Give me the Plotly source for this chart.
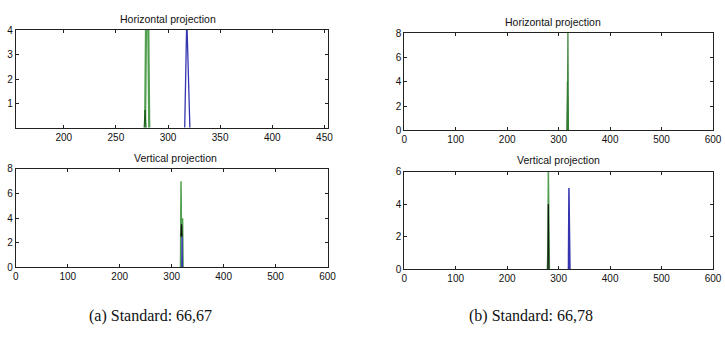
import plotly.graph_objects as go

# ---- data ----
# (a) Horizontal projection
a_h_green_x = [277, 278, 279, 280, 281, 282]
a_h_green_y = [0, 0, 4.5, 4.5, 4.5, 0]
a_h_dkgreen_x = [277, 278, 279]
a_h_dkgreen_y = [0, 0.75, 0]
a_h_blue_x = [316, 317, 318, 319, 320, 321]
a_h_blue_y = [0, 2, 4.5, 3, 1, 0]
# (a) Vertical projection
a_v_green_x = [317, 318, 319, 320, 321, 322]
a_v_green_y = [0, 7, 2.5, 2.5, 4, 0]
a_v_black_x = [318, 319, 320]
a_v_black_y = [2.5, 3.5, 2.5]
a_v_blue_x = [319, 320, 321]
a_v_blue_y = [0, 2.5, 0]
# (b) Horizontal projection
b_h_green_x = [317, 318, 319]
b_h_green_y = [0, 8, 0]
b_h_dkgreen_x = [316, 317, 318]
b_h_dkgreen_y = [0, 4, 0]
# (b) Vertical projection
b_v_green_x = [278, 279, 280, 281, 282]
b_v_green_y = [0, 1, 6, 0, 0]
b_v_black_x = [279, 280, 281]
b_v_black_y = [0, 4, 0]
b_v_blue_x = [319, 320, 321, 322]
b_v_blue_y = [0, 5, 2.5, 0]

titles = ["Horizontal projection", "Vertical projection",
          "Horizontal projection", "Vertical projection"]
captions = ["(a) Standard: 66,67", "(b) Standard: 66,78"]

GREEN = "#4f9f4f"
DKGREEN = "#1c5a1c"
BLUE = "#3535b0"
BLACK = "#111111"

W, H = 725, 337
def px_x(a, b):
    return [a / W, b / W]
def px_y(top, bot):
    return [1 - bot / H, 1 - top / H]

fig = go.Figure()

def add(x, y, color, ax, width=1.5):
    fig.add_trace(go.Scatter(x=x, y=y, mode="lines", line=dict(color=color, width=width),
                             xaxis="x" + ax, yaxis="y" + ax, showlegend=False,
                             hoverinfo="skip"))

add(a_h_green_x, a_h_green_y, GREEN, "", 2.2)
add(a_h_dkgreen_x, a_h_dkgreen_y, DKGREEN, "", 1)
add(a_h_blue_x, a_h_blue_y, BLUE, "", 1.3)
add(a_v_green_x, a_v_green_y, GREEN, "2", 1.5)
add(a_v_black_x, a_v_black_y, BLACK, "2", 1.2)
add(a_v_blue_x, a_v_blue_y, BLUE, "2", 1)
add(b_h_dkgreen_x, b_h_dkgreen_y, DKGREEN, "3", 1)
add(b_h_green_x, b_h_green_y, "#2f7f2f", "3", 1.2)
add(b_v_green_x, b_v_green_y, GREEN, "4", 1.5)
add(b_v_black_x, b_v_black_y, BLACK, "4", 1)
add(b_v_blue_x, b_v_blue_y, BLUE, "4", 1.5)

axfont = dict(family="Liberation Sans, Arial, sans-serif", size=10, color="#111")
common = dict(showgrid=False, zeroline=False, showline=True, linecolor="#222",
              linewidth=1, mirror="ticks", ticks="inside", ticklen=3,
              tickcolor="#222", tickfont=axfont, fixedrange=True,
              ticklabeloverflow="allow")

domains = {
    "": (px_x(13, 330), px_y(25, 126)),
    "2": (px_x(13, 330), px_y(169, 271)),
    "3": (px_x(408, 722), px_y(28, 129)),
    "4": (px_x(408, 722), px_y(172, 273)),
}
xr = {"": [154, 453], "2": [0, 600], "3": [0, 600], "4": [0, 600]}
xt = {"": [200, 250, 300, 350, 400, 450], "2": [0, 100, 200, 300, 400, 500, 600],
      "3": [0, 100, 200, 300, 400, 500, 600], "4": [0, 100, 200, 300, 400, 500, 600]}
yr = {"": [0.04, 4], "2": [0, 8], "3": [0, 8], "4": [0, 6]}
yt = {"": [1, 2, 3, 4], "2": [0, 2, 4, 6, 8], "3": [0, 2, 4, 6, 8], "4": [0, 2, 4, 6]}

lay = {}
for k, (dx, dy) in domains.items():
    lay["xaxis" + k] = dict(domain=dx, range=xr[k], tickvals=xt[k], anchor="y" + k, **common)
    lay["yaxis" + k] = dict(domain=dy, range=yr[k], tickvals=yt[k], anchor="x" + k, **common)

annots = []
title_pos = [(168, 13), (175, 158), (559, 17), (565, 160)]
tfont = dict(family="Liberation Sans, Arial, sans-serif", size=10.5, color="#111")
for t, (x, y) in zip(titles, title_pos):
    annots.append(dict(text=t, x=x / W, y=1 - y / H, xref="paper", yref="paper",
                       showarrow=False, xanchor="center", yanchor="middle", font=tfont))
cap_pos = [(150, 321), (537, 321)]
cfont = dict(family="Liberation Serif, Times New Roman, serif", size=16, color="#111")
for t, (x, y) in zip(captions, cap_pos):
    annots.append(dict(text=t, x=x / W, y=1 - y / H, xref="paper", yref="paper",
                       showarrow=False, xanchor="center", yanchor="middle", font=cfont))

fig.update_layout(width=W, height=H, margin=dict(l=0, r=0, t=0, b=0),
                  paper_bgcolor="white", plot_bgcolor="white",
                  annotations=annots, **lay)

fig.write_html("out.html", config={"displayModeBar": False},
               post_script="document.body.style.margin='0';document.body.style.padding='0';"
                           "document.documentElement.style.overflow='hidden';")
